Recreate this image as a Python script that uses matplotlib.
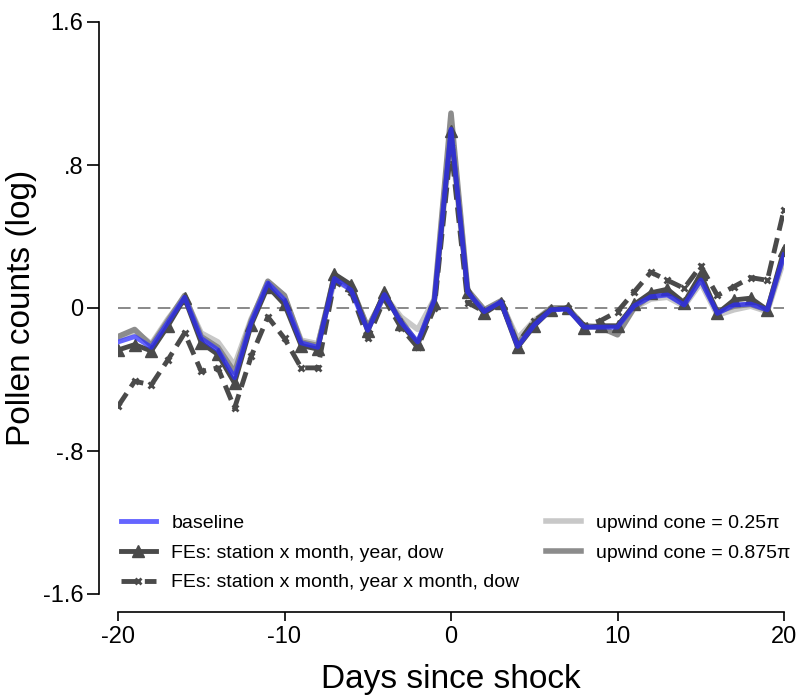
import matplotlib
matplotlib.use("Agg")
import matplotlib.pyplot as plt
import numpy as np

plt.rcParams['font.family'] = ['Liberation Sans', 'DejaVu Sans']

days = list(range(-20, 21))

baseline = [-0.19, -0.16, -0.22, -0.08, 0.06, -0.17, -0.235, -0.39, -0.08, 0.14,
            0.045, -0.195, -0.22, 0.165, 0.10, -0.125, 0.075, -0.08, -0.19, 0.045,
            1.0, 0.09, -0.02, 0.035, -0.215, -0.095, -0.01, -0.007, -0.107, -0.107,
            -0.107, 0.012, 0.063, 0.073, 0.017, 0.157, -0.03, 0.017, 0.022, -0.01,
            0.297]

fe_month_year = [-0.235, -0.205, -0.24, -0.10, 0.055, -0.195, -0.26, -0.42, -0.095, 0.12,
                 0.02, -0.21, -0.23, 0.19, 0.13, -0.13, 0.09, -0.09, -0.20, 0.03,
                 0.99, 0.09, -0.03, 0.03, -0.22, -0.10, -0.01, 0.0, -0.11, -0.10,
                 -0.10, 0.02, 0.085, 0.105, 0.03, 0.19, -0.03, 0.045, 0.055, -0.01,
                 0.325]

fe_yearmonth = [-0.55, -0.41, -0.43, -0.29, -0.14, -0.355, -0.335, -0.56, -0.27, -0.05,
                -0.17, -0.335, -0.335, 0.15, 0.09, -0.17, 0.05, -0.11, -0.22, 0.0,
                0.90, 0.03, -0.02, 0.03, -0.20, -0.07, -0.01, 0.0, -0.10, -0.07,
                -0.02, 0.09, 0.20, 0.155, 0.11, 0.235, 0.07, 0.12, 0.17, 0.155,
                0.55]

cone_025 = [-0.17, -0.13, -0.20, -0.06, 0.06, -0.14, -0.19, -0.32, -0.06, 0.13,
            0.06, -0.18, -0.20, 0.15, 0.11, -0.11, 0.07, -0.05, -0.12, 0.05,
            0.95, 0.10, -0.01, 0.03, -0.17, -0.07, 0.0, 0.0, -0.10, -0.10,
            -0.10, 0.0, 0.05, 0.06, 0.01, 0.14, -0.04, -0.01, 0.01, -0.02,
            0.27]

cone_0875 = [-0.16, -0.12, -0.21, -0.07, 0.07, -0.16, -0.22, -0.36, -0.07, 0.15,
             0.07, -0.19, -0.21, 0.18, 0.12, -0.11, 0.07, -0.07, -0.20, 0.05,
             1.09, 0.10, -0.01, 0.04, -0.20, -0.08, 0.0, 0.0, -0.10, -0.11,
             -0.15, 0.0, 0.07, 0.08, 0.02, 0.16, -0.02, 0.01, 0.02, -0.01,
             0.30]

xticks = [-20, -10, 0, 10, 20]
yticks = [1.6, 0.8, 0, -0.8, -1.6]
ytick_labels = ["1.6", ".8", "0", "-.8", "-1.6"]

fig = plt.figure(figsize=(8.01, 6.98), dpi=100)
ax = fig.add_axes([118/801, (698-594)/698, (784-118)/801, (594-22)/698])

ax.axhline(0, color='#808080', lw=1.3, ls=(0, (7, 4)), zorder=1)

l1, = ax.plot(days, cone_025, color='#c8c8c8', lw=4, zorder=2,
              label='upwind cone = 0.25\u03c0')
l2, = ax.plot(days, cone_0875, color='#8c8c8c', lw=4, zorder=3,
              label='upwind cone = 0.875\u03c0')
l3, = ax.plot(days, fe_yearmonth, color='#4a4a4a', lw=3.5, ls=(0, (3.2, 1.6)),
              marker='x', ms=5, mew=2, zorder=4,
              label='FEs: station x month, year x month, dow')
l4, = ax.plot(days, fe_month_year, color='#4a4a4a', lw=3.5, marker='^', ms=9,
              zorder=5, label='FEs: station x month, year, dow')
l5, = ax.plot(days, baseline, color='#2a2aff', alpha=0.72, lw=3.5, zorder=6,
              label='baseline')

ax.set_xlim(-20, 20)
ax.set_ylim(-1.6, 1.6)
ax.set_xticks(xticks)
ax.set_xticklabels([str(t) for t in xticks])
ax.set_yticks(yticks)
ax.set_yticklabels(ytick_labels)

for s in ['top', 'right']:
    ax.spines[s].set_visible(False)
ax.spines['left'].set_position(('outward', 13.4))
ax.spines['bottom'].set_position(('outward', 13.2))
ax.spines['left'].set_linewidth(1.2)
ax.spines['bottom'].set_linewidth(1.2)
ax.tick_params(axis='x', direction='out', length=6.5, width=1.2, labelsize=17, pad=3.6)
ax.tick_params(axis='y', direction='out', length=8.6, width=1.2, labelsize=17, pad=3)

ax.set_xlabel('Days since shock', fontsize=24, labelpad=11)
ax.set_ylabel('Pollen counts (log)', fontsize=24)
ax.yaxis.set_label_coords(-0.122, 0.5)

leg = ax.legend(handles=[l5, l4, l3, l1, l2], ncol=2, frameon=False,
                loc='upper left', bbox_to_anchor=(0.004, 0.139),
                fontsize=14, handlelength=1.8, handletextpad=0.8,
                columnspacing=1.35, labelspacing=0.62, borderaxespad=0,
                borderpad=0)

fig.savefig('out.png', dpi=100)
